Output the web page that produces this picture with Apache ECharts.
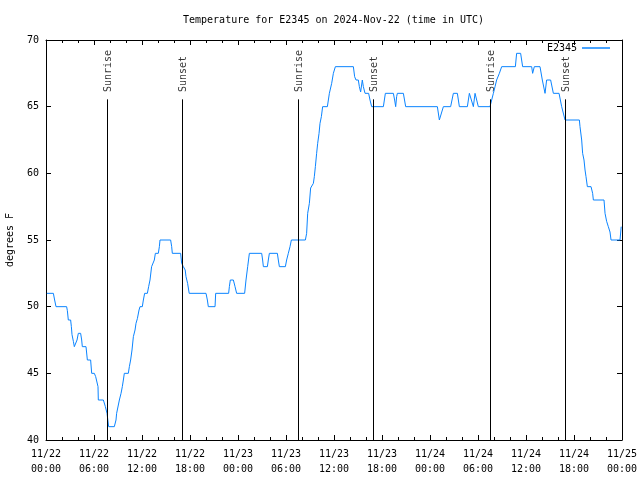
<!DOCTYPE html>
<html>
<head>
<meta charset="utf-8">
<script src="https://cdn.jsdelivr.net/npm/echarts@6/dist/echarts.min.js"></script>
<style>html,body{margin:0;padding:0;background:#fff;}#chart{width:640px;height:480px;}</style>
</head>
<body>
<div id="chart"></div>
<script>
// Hours since 2024-11-22 00:00 UTC
const hours = [
  0.1, 0.92, 1.08, 1.25, 2.58, 2.67, 2.79, 3.08, 3.17, 3.25, 3.42, 3.54, 3.75, 3.88, 4.04, 4.33, 4.46, 4.54, 5.0, 5.17,
  5.58, 5.71, 6.04, 6.21, 6.5, 6.54, 7.17, 7.42, 7.63, 7.83, 8.54, 8.75, 8.83, 9.08, 9.17, 9.38, 9.54, 9.67, 9.79, 10.29,
  10.42, 10.58, 10.75, 10.92, 11.13, 11.25, 11.42, 11.63, 11.75, 12.04, 12.17, 12.33, 12.67, 12.83, 13.0, 13.2, 13.42, 13.54, 13.67, 14.04,
  14.17, 14.25, 15.58, 15.71, 15.79, 16.83, 16.96, 17.17, 17.4, 17.5, 17.7, 17.9, 20.0, 20.17, 20.29, 21.13, 21.21, 22.83, 22.92, 23.04,
  23.42, 23.63, 23.83, 24.83, 25.0, 25.21, 25.42, 26.96, 27.08, 27.17, 27.67, 27.79, 27.92, 28.92, 29.04, 29.17, 29.92, 30.08, 30.29, 30.5,
  30.67, 32.42, 32.58, 32.71, 32.92, 33.08, 33.29, 33.42, 33.54, 33.67, 33.83, 33.96, 34.13, 34.25, 34.42, 34.58, 35.17, 35.42, 35.58, 35.71,
  35.92, 36.17, 38.42, 38.58, 38.75, 39.04, 39.17, 39.33, 39.54, 39.67, 39.88, 40.33, 40.5, 40.71, 42.17, 42.42, 43.42, 43.58, 43.71, 43.83,
  43.92, 44.67, 44.96, 48.92, 49.17, 49.42, 49.67, 50.58, 50.92, 51.42, 51.67, 52.67, 52.92, 53.17, 53.42, 53.63, 53.83, 54.04, 55.5, 55.71,
  55.92, 56.13, 56.33, 56.54, 56.67, 56.96, 58.67, 58.83, 59.33, 59.58, 60.71, 60.83, 61.04, 61.75, 62.04, 62.38, 62.58, 63.08, 63.42, 64.13,
  64.46, 64.88, 66.67, 66.75, 66.96, 67.08, 67.25, 67.38, 67.5, 67.67, 68.13, 68.33, 68.42, 69.75, 69.88, 70.08, 70.29, 70.5, 70.63, 71.75,
  71.9
];
const tempF = [
  51, 51, 50.5, 50, 50, 49.7, 49, 49, 48.5, 47.9, 47.4, 47, 47, 47.5, 48, 48, 47.5, 47, 47, 46,
  46, 45, 45, 44.75, 44, 43, 43, 42.5, 42, 41, 41, 41.5, 42, 42, 43, 43.5, 44, 44.5, 45, 45,
  45.5, 46, 46.75, 47.75, 48.25, 48.75, 49.1, 49.75, 50, 50, 50.5, 51, 51, 51.5, 52, 53, 53, 53.5, 54, 54,
  54.5, 55, 55, 54.5, 54, 54, 53.25, 53, 52.75, 52.25, 51.75, 51, 51, 50.5, 50, 50, 51, 51, 51.5, 52,
  52, 51.5, 51, 51, 52, 53, 54, 54, 53.5, 53, 53, 53.5, 54, 54, 53.5, 53, 53, 53.5, 54, 54.5,
  55, 55, 55.5, 57, 57.75, 58.9, 59.05, 59.25, 59.75, 60.5, 61.5, 62.25, 63, 63.75, 64.25, 65, 65, 66, 66, 66.75,
  67.5, 68, 68, 67.25, 67, 67, 66.5, 66.1, 67, 66.5, 66, 66, 65.5, 65, 65, 66, 66, 65.5, 65, 65.75,
  66, 66, 65, 65, 64, 64, 65, 65, 66, 66, 65, 65, 66, 66, 65, 66, 66, 65, 65, 65.5,
  66, 66.5, 67, 67, 67.5, 68, 68, 69, 69, 68, 68, 67.5, 68, 68, 67, 66, 67, 67, 66, 66,
  65, 64, 64, 63.5, 62.5, 61.5, 61, 60.25, 59.75, 59, 59, 58.5, 58, 58, 57, 56.4, 56, 55.6, 55, 55,
  56
];
const xTickLabels = [
  '11/22\n00:00', '11/22\n06:00', '11/22\n12:00', '11/22\n18:00',
  '11/23\n00:00', '11/23\n06:00', '11/23\n12:00', '11/23\n18:00',
  '11/24\n00:00', '11/24\n06:00', '11/24\n12:00', '11/24\n18:00',
  '11/25\n00:00'
];
const eventNames = ['Sunrise', 'Sunset', 'Sunrise', 'Sunset', 'Sunrise', 'Sunset'];
const eventHours = [7.66, 17.04, 31.54, 40.91, 55.54, 64.91];
const seriesName = 'E2345';

const FONT = 'DejaVu Sans Mono';
const lineColor = '#0a84ff';
const chart = echarts.init(document.getElementById('chart'), null, {renderer: 'canvas'});

const axisCommon = {
  type: 'value', min: 0, max: 72, interval: 6,
  axisLine: {show: true, onZero: false, lineStyle: {color: '#000', width: 1}},
  axisTick: {show: true, inside: true, length: 5, lineStyle: {color: '#000'}},
  minorTick: {show: true, splitNumber: 3, length: 3, lineStyle: {color: '#000'}},
  splitLine: {show: false}
};
const yCommon = {
  type: 'value', min: 40, max: 70, interval: 5,
  axisLine: {show: true, onZero: false, lineStyle: {color: '#000', width: 1}},
  axisTick: {show: true, inside: true, length: 5, lineStyle: {color: '#000'}},
  splitLine: {show: false}
};

const option = {
  animation: false,
  backgroundColor: '#fff',
  title: {
    text: 'Temperature for E2345 on 2024-Nov-22 (time in UTC)',
    left: 178, top: 10,
    textStyle: {fontFamily: FONT, fontSize: 10, fontWeight: 'normal', color: '#000'}
  },
  legend: {
    data: [seriesName], right: 25, top: 38, align: 'right',
    icon: 'rect', itemWidth: 28, itemHeight: 1.5, itemGap: 6,
    textStyle: {fontFamily: FONT, fontSize: 10, color: '#000'}
  },
  grid: {left: 46, right: 18, top: 40, bottom: 40, containLabel: false, outerBoundsMode: 'none'},
  xAxis: [
    Object.assign({}, axisCommon, {
      position: 'bottom',
      axisLabel: {margin: 7, fontFamily: FONT, fontSize: 10, color: '#000', lineHeight: 15,
        formatter: v => xTickLabels[Math.round(v / 6)]}
    }),
    Object.assign({}, axisCommon, {position: 'top', axisLabel: {show: false}})
  ],
  yAxis: [
    Object.assign({}, yCommon, {
      position: 'left',
      name: 'degrees F', nameLocation: 'middle', nameGap: 31,
      nameTextStyle: {fontFamily: FONT, fontSize: 10, color: '#000'},
      axisLabel: {margin: 7, fontFamily: FONT, fontSize: 10, color: '#000'}
    }),
    Object.assign({}, yCommon, {position: 'right', axisLabel: {show: false}})
  ],
  series: [
    {
      name: seriesName, type: 'line', xAxisIndex: 0, yAxisIndex: 0,
      data: hours.map((h, i) => [h, tempF[i]]),
      symbol: 'none', color: lineColor,
      lineStyle: {color: lineColor, width: 1},
      markLine: {
        silent: true, symbol: ['none', 'none'],
        label: {show: false},
        lineStyle: {color: '#000', width: 1, type: 'solid'},
        data: eventHours.map(h => [{coord: [h, 40]}, {coord: [h, 65.55]}])
      }
    },
    {
      name: 'events', type: 'scatter', xAxisIndex: 0, yAxisIndex: 0,
      symbolSize: 0, silent: true,
      data: eventHours.map(h => [h, 66.1]),
      label: {
        show: true, position: 'inside', rotate: 90, align: 'left', verticalAlign: 'middle',
        offset: [0, 1],
        fontFamily: FONT, fontSize: 10, color: '#000',
        formatter: p => eventNames[p.dataIndex]
      }
    }
  ]
};
chart.setOption(option);
</script>
</body>
</html>
